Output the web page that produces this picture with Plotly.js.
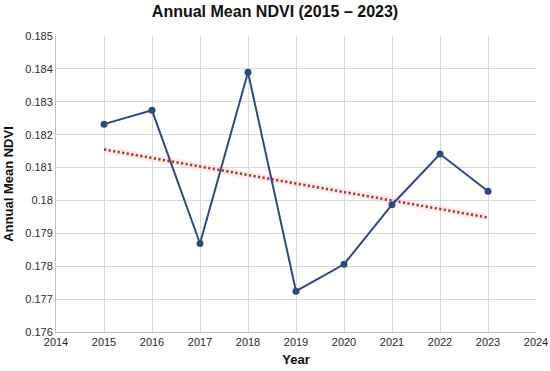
<!DOCTYPE html>
<html><head><meta charset="utf-8">
<script src="https://cdn.plot.ly/plotly-3.0.1.min.js"></script>
<style>html,body{margin:0;padding:0;background:#fff}#c{width:550px;height:371px}</style>
</head><body><div id="c"></div>
<script>
const years = [2015, 2016, 2017, 2018, 2019, 2020, 2021, 2022, 2023];
const ndvi = [0.18232, 0.18274, 0.17869, 0.18390, 0.17724, 0.17806, 0.17987, 0.18141, 0.18028];
const trendYears = [2015, 2023];
const trendValues = [0.18155, 0.17948];
const yTickVals = [0.176, 0.177, 0.178, 0.179, 0.18, 0.181, 0.182, 0.183, 0.184, 0.185];
const yTickText = ["0.176", "0.177", "0.178", "0.179", "0.18", "0.181", "0.182", "0.183", "0.184", "0.185"];
const xTickVals = [2014, 2015, 2016, 2017, 2018, 2019, 2020, 2021, 2022, 2023, 2024];

const traces = [
  {x: trendYears, y: trendValues, mode: 'lines', line: {color: 'rgba(255,205,230,0.45)', width: 7}, hoverinfo: 'skip', showlegend: false},
  {x: trendYears, y: trendValues, mode: 'lines', line: {color: '#8E4A1C', width: 2.6, dash: '2.2px,2.4px'}, showlegend: false},
  {x: years, y: ndvi, mode: 'lines+markers', line: {color: '#2E4A7F', width: 2}, marker: {color: '#2E4A7F', size: 7}, showlegend: false}
];
const layout = {
  width: 550, height: 371,
  margin: {l: 56, r: 14, t: 36, b: 39},
  paper_bgcolor: '#fff', plot_bgcolor: '#fff',
  font: {family: 'Liberation Sans, Arial, sans-serif', color: '#2b2b2b', size: 11},
  title: {text: '<b>Annual Mean NDVI (2015 – 2023)</b>', x: 0.5, xanchor: 'center', y: 0.985, yanchor: 'top', font: {size: 16, color: '#111'}},
  xaxis: {range: [2014, 2024], tickvals: xTickVals, ticktext: xTickVals.map(String), showgrid: true, gridcolor: '#d9d9d9', gridwidth: 1,
    zeroline: false, showline: true, linecolor: '#bfbfbf', linewidth: 1, ticks: '', ticklen: 0,
    title: {text: '<b>Year</b>', font: {size: 13, color: '#111'}, standoff: 7}},
  yaxis: {range: [0.176, 0.185], tickvals: yTickVals, ticktext: yTickText, showgrid: true, gridcolor: '#d9d9d9', gridwidth: 1,
    zeroline: false, showline: true, linecolor: '#bfbfbf', linewidth: 1, ticks: '',
    title: {text: '<b>Annual Mean NDVI</b>', font: {size: 13, color: '#111'}, standoff: 8}}
};
Plotly.newPlot('c', traces, layout, {displayModeBar: false, staticPlot: true});
</script></body></html>
